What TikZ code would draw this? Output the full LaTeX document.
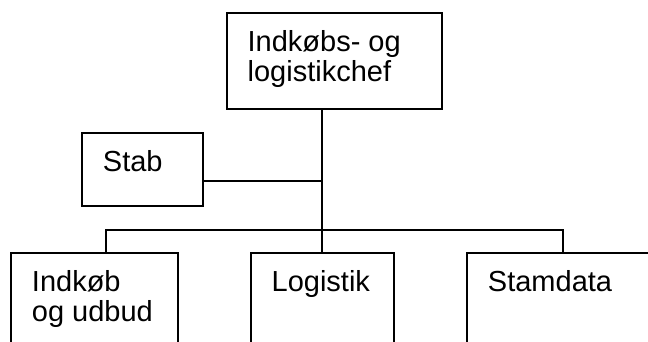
\documentclass[tikz,border=0pt]{standalone}
\usepackage{fontspec}
\setmainfont{Liberation Sans}
\begin{document}
\begin{tikzpicture}[x=1pt, y=-1pt, line width=1.9pt,
  unit/.style={draw, rectangle, anchor=north west, inner sep=0pt, outer sep=0pt},
  caption/.style={anchor=base west, inner sep=0pt, font=\fontsize{29}{30}\selectfont}]
  \useasboundingbox (0,0) rectangle (648,341);
  \clip (0,0) rectangle (648,341);

  % organisation units
  \node[unit, minimum width=215.6pt, minimum height=95.7pt] (chef) at (226.7,13.3) {};
  \node[unit, minimum width=121pt,   minimum height=73pt]   (stab) at (82,133) {};
  \node[unit, minimum width=167pt,   minimum height=120pt]  (ind)  at (11,253) {};
  \node[unit, minimum width=143.3pt, minimum height=120pt]  (log)  at (250.7,253) {};
  \node[unit, minimum width=200pt,   minimum height=120pt]  (stam) at (467,253) {};

  % unit titles
  \node[caption] (chefT) at ([xshift=20pt,yshift=-38pt]chef.north west)
    {\begin{tabular}[t]{@{}l@{}}Indkøbs- og\\logistikchef\end{tabular}};
  \node[caption] (stabT) at ([xshift=20pt,yshift=-38pt]stab.north west) {Stab};
  \node[caption] (indT)  at ([xshift=20pt,yshift=-38pt]ind.north west)
    {\begin{tabular}[t]{@{}l@{}}Indkøb\\og udbud\end{tabular}};
  \node[caption] (logT)  at ([xshift=20pt,yshift=-38pt]log.north west) {Logistik};
  \node[caption] (stamT) at ([xshift=20pt,yshift=-38pt]stam.north west) {Stamdata};

  % reporting lines
  \coordinate (busL) at (106,230);
  \coordinate (busR) at (563,230);
  \draw (chef.south -| log.north) -- (log.north);
  \draw (busL |- ind.north) -- (busL) -- (busR) -- (busR |- stam.north);
  \draw ([yshift=-11.5pt]stab.east) -- ([yshift=-11.5pt]stab.east -| log.north);
\end{tikzpicture}
\end{document}
